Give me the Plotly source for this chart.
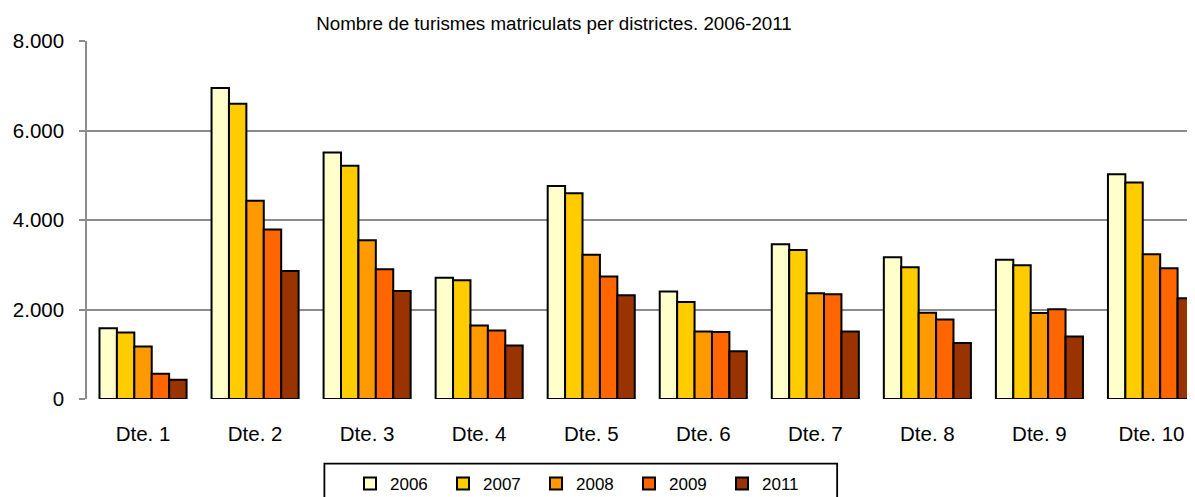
import plotly.graph_objects as go

categories = ["Dte. 1", "Dte. 2", "Dte. 3", "Dte. 4", "Dte. 5",
              "Dte. 6", "Dte. 7", "Dte. 8", "Dte. 9", "Dte. 10"]
years = ["2006", "2007", "2008", "2009", "2011"]
v2006 = [1580, 6950, 5510, 2710, 4760, 2400, 3460, 3170, 3110, 5020]
v2007 = [1485, 6600, 5210, 2655, 4600, 2165, 3330, 2945, 2990, 4840]
v2008 = [1175, 4430, 3545, 1640, 3225, 1510, 2365, 1930, 1920, 3235]
v2009 = [565, 3790, 2900, 1530, 2735, 1495, 2340, 1775, 2005, 2920]
v2011 = [430, 2860, 2415, 1195, 2320, 1065, 1510, 1250, 1395, 2250]
series = [v2006, v2007, v2008, v2009, v2011]
colors = ["#FFFFCC", "#FFCC00", "#FF9900", "#FF6600", "#993300"]
title_text = "Nombre de turismes matriculats per districtes. 2006-2011"
y_ticks = [0, 2000, 4000, 6000, 8000]

# page has an 8px body margin; figure coordinates are page coordinates minus 8
OFF = 8
W, H = 1195 - OFF, 497 - OFF
ml = 86.5 - OFF
mt = 40.7 - OFF
plot_bottom = 399.3 - OFF
mb = H - plot_bottom
plot_w = W - ml
cat_px = 112.1
x_max = -0.5 + plot_w / cat_px

fig = go.Figure()
for name, vals, col in zip(years, series, colors):
    fig.add_trace(go.Bar(
        x=categories, y=vals, name=name,
        marker=dict(color=col, line=dict(color="black", width=2)),
    ))

fig.update_layout(
    width=W, height=H,
    margin=dict(l=ml, r=0, t=mt, b=mb, pad=0),
    paper_bgcolor="white", plot_bgcolor="white",
    barmode="group", bargap=0.223, bargroupgap=0,
    separators=",.",
    font=dict(family="Liberation Sans, Arial, sans-serif", color="black"),
    title=dict(text=title_text, x=(554 - OFF) / W, xanchor="center", xref="container",
               y=1 - (23.5 - OFF) / H, yanchor="middle", yref="container",
               font=dict(size=18.8, color="black")),
    showlegend=True,
    legend=dict(orientation="h", xref="container", yref="container",
                x=(350 - OFF) / W, xanchor="left", y=1 - (466 - OFF) / H, yanchor="top",
                font=dict(size=17), borderwidth=0, bgcolor="rgba(0,0,0,0)",
                entrywidth=48, traceorder="normal"),
)

fig.update_xaxes(
    range=[-0.5, x_max], showgrid=False, showline=False, ticks="",
    tickfont=dict(size=20.5), ticklabelstandoff=20,
)
fig.update_yaxes(
    range=[0, 8000], tickvals=y_ticks, tickformat=",d",
    showgrid=True, gridcolor="#8C8C8C", gridwidth=1.5,
    showline=True, linecolor="#8C8C8C", linewidth=1.5,
    ticks="outside", ticklen=6, tickcolor="#8C8C8C", tickwidth=1.5,
    tickfont=dict(size=20.5), ticklabelstandoff=11, zeroline=False,
)

# legend frame
ph = H - mt - mb
x0 = (324 - OFF - ml) / plot_w
x1 = (837 - OFF - ml) / plot_w
y0 = (plot_bottom - (464 - OFF)) / ph
y1 = (plot_bottom - (505 - OFF)) / ph
fig.add_shape(type="rect", xref="paper", yref="paper", x0=x0, x1=x1, y0=y0, y1=y1,
              line=dict(color="black", width=1.8), fillcolor="rgba(0,0,0,0)")

fig.write_html("out.html")
